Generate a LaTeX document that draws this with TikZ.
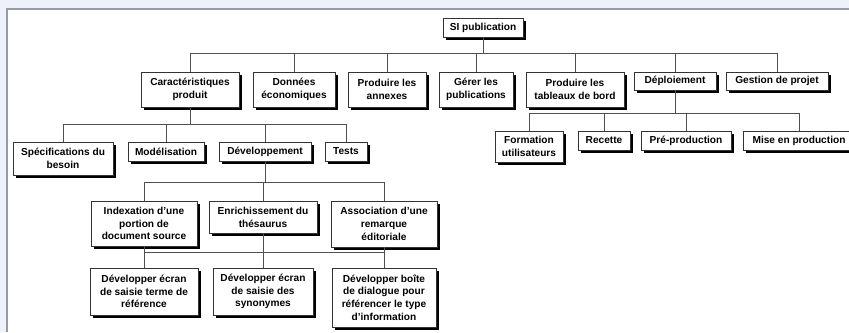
\documentclass[tikz,border=0pt]{standalone}
\usepackage{fontspec}
\setmainfont{Liberation Sans}
\usetikzlibrary{shadows}
\definecolor{pane}{RGB}{238,241,250}
\definecolor{rim}{RGB}{150,155,165}
\definecolor{wire}{RGB}{80,80,80}
\tikzset{
  box/.style={draw=black!80,fill=white,line width=0.5pt,align=center,inner sep=1pt,
    font=\fontsize{7.6}{9.6}\selectfont\bfseries,
    drop shadow={shadow xshift=2.4pt,shadow yshift=-2.4pt,fill=black,opacity=1}},
  wd/.style={minimum width=#1*0.75pt},
  ht/.style={minimum height=#1*0.75pt},
  link/.style={draw=wire,line width=0.7pt},
}
\begin{document}
\begin{tikzpicture}[x=0.75pt,y=-0.75pt]
  \useasboundingbox (0,0) rectangle (849,332);
  % frame
  \fill[pane] (0,0) rectangle (849,332);
  \fill[white] (7,9) rectangle (849,332);
  \draw[rim,line width=1pt] (7,332) -- (7,9) -- (849,9);

  \node[box,wd=80,ht=19] (root) at (483,27.5) {SI publication};

  \node[box,wd=98,ht=35] (car) at (190,89.5) {Caractéristiques\\produit};
  \node[box,wd=82,ht=35] (don) at (294,89.5) {Données\\économiques};
  \node[box,wd=78,ht=35] (ann) at (387,89.5) {Produire les\\annexes};
  \node[box,wd=74,ht=35] (ger) at (476,89.5) {Gérer les\\publications};
  \node[box,wd=98,ht=35] (tab) at (575,89.5) {Produire les\\tableaux de bord};
  \node[box,wd=82,ht=18] (dep) at (675,81) {Déploiement};
  \node[box,wd=102,ht=18] (ges) at (777,81) {Gestion de projet};

  \node[box,wd=68,ht=31] (form) at (529,146.5) {Formation\\utilisateurs};
  \node[box,wd=52,ht=19] (rec) at (604,140.5) {Recette};
  \node[box,wd=90,ht=19] (pre) at (686,140.5) {Pré-production};
  \node[box,wd=112,ht=19] (mise) at (799,140.5) {Mise en production};

  \node[box,wd=100,ht=33] (spe) at (63,158.5) {Spécifications du\\besoin};
  \node[box,wd=76,ht=19] (mod) at (166,151.5) {Modélisation};
  \node[box,wd=92,ht=19] (dev) at (265,151.5) {Développement};
  \node[box,wd=42,ht=19] (tes) at (346,151.5) {Tests};

  \node[box,wd=106,ht=45] (idx) at (144,223.5) {Indexation d'une\\portion de\\document source};
  \node[box,wd=108,ht=32] (enr) at (263,217) {Enrichissement du\\thésaurus};
  \node[box,wd=106,ht=46] (ass) at (384,224) {Association d'une\\remarque\\éditoriale};

  \node[box,wd=108,ht=47] (dv1) at (144,291.5) {Développer écran\\de saisie terme de\\référence};
  \node[box,wd=100,ht=47] (dv2) at (263,291.5) {Développer écran\\de saisie des\\synonymes};
  \node[box,wd=104,ht=59] (dv3) at (384,297.5) {Développer boîte\\de dialogue pour\\référencer le type\\d'information};

  % connectors
  \draw[link] (root.south) -- ++(0,16) coordinate (b0);
  \foreach \n in {car,don,ann,ger,tab,dep,ges} \draw[link] (b0) -| (\n.north);
  \draw[link] (dep.south) -- ++(0,23) coordinate (b1);
  \foreach \n in {form,rec,pre,mise} \draw[link] (b1) -| (\n.north);
  \draw[link] (car.south) -- ++(0,17) coordinate (b2);
  \foreach \n in {spe,mod,dev,tes} \draw[link] (b2) -| (\n.north);
  \draw[link] (dev.south) -- ++(0,21) coordinate (b3);
  \foreach \n in {idx,enr,ass} \draw[link] (b3) -| (\n.north);
  \draw[link] (idx.south) -- ++(0,6) -| (ass.south);
  \draw[link] (idx) -- (dv1);
  \draw[link] (enr) -- (dv2);
  \draw[link] (ass) -- (dv3);
\end{tikzpicture}
\end{document}
